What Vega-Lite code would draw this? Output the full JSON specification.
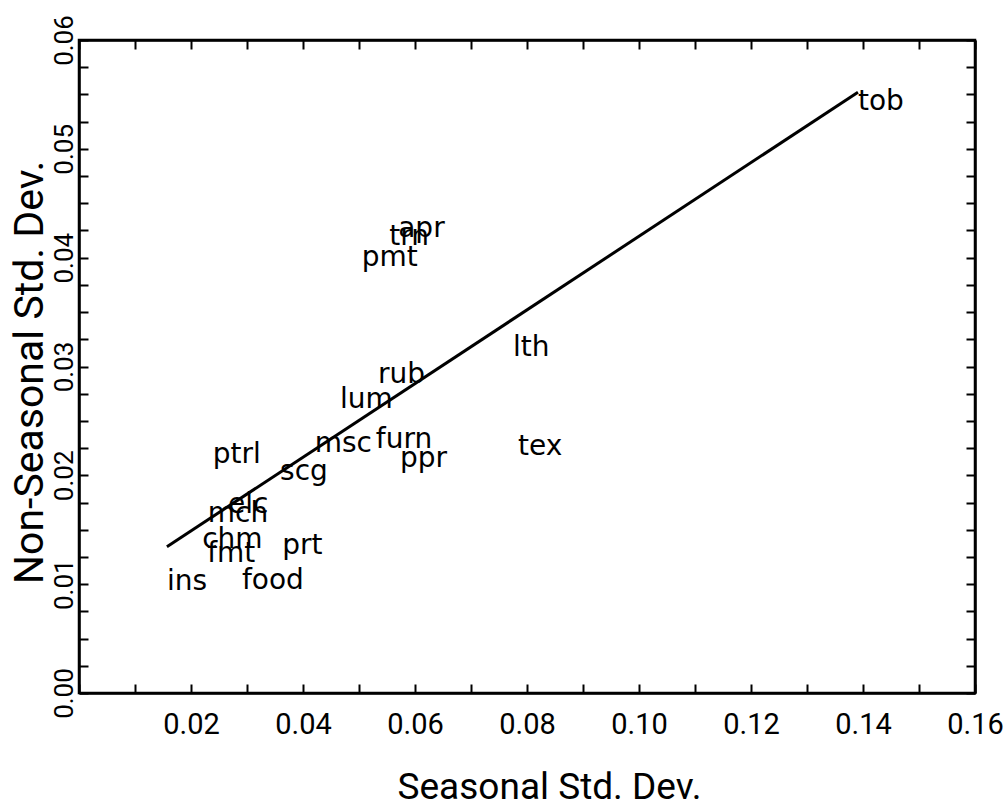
{
  "$schema": "https://vega.github.io/schema/vega-lite/v6.json",
  "width": 896,
  "height": 653,
  "autosize": {"type": "none"},
  "padding": {"left": 79, "top": 40, "right": 30, "bottom": 113},
  "background": "white",
  "config": {
    "view": {"stroke": "black", "strokeWidth": 2.5},
    "axis": {
      "grid": false,
      "domainColor": "black",
      "domainWidth": 2.5,
      "tickColor": "black",
      "tickWidth": 2,
      "tickSize": -9,
      "labelColor": "black",
      "labelFont": "Roboto",
      "labelFlush": false,
      "labelOverlap": false,
      "labelBound": false,
      "titleColor": "black",
      "titleFont": "Roboto",
      "titleFontWeight": "normal"
    }
  },
  "datasets": {
    "fit": [
      {"seasonal": 0.0157, "nonseasonal": 0.01344},
      {"seasonal": 0.1391, "nonseasonal": 0.0552}
    ],
    "labels": [
      {"industry": "tob", "seasonal": 0.1391, "nonseasonal": 0.05357},
      {"industry": "apr", "seasonal": 0.0570, "nonseasonal": 0.0419},
      {"industry": "trn", "seasonal": 0.0554, "nonseasonal": 0.0412},
      {"industry": "pmt", "seasonal": 0.0505, "nonseasonal": 0.0392},
      {"industry": "lth", "seasonal": 0.0775, "nonseasonal": 0.0310},
      {"industry": "rub", "seasonal": 0.0534, "nonseasonal": 0.0285},
      {"industry": "lum", "seasonal": 0.0466, "nonseasonal": 0.0262},
      {"industry": "msc", "seasonal": 0.0421, "nonseasonal": 0.0221},
      {"industry": "furn", "seasonal": 0.0530, "nonseasonal": 0.0225},
      {"industry": "ppr", "seasonal": 0.0573, "nonseasonal": 0.0208},
      {"industry": "tex", "seasonal": 0.0784, "nonseasonal": 0.0219},
      {"industry": "ptrl", "seasonal": 0.0239, "nonseasonal": 0.0211},
      {"industry": "scg", "seasonal": 0.0359, "nonseasonal": 0.0196},
      {"industry": "elc", "seasonal": 0.0266, "nonseasonal": 0.0165},
      {"industry": "mch", "seasonal": 0.0230, "nonseasonal": 0.0157},
      {"industry": "chm", "seasonal": 0.0220, "nonseasonal": 0.0133},
      {"industry": "fmt", "seasonal": 0.0229, "nonseasonal": 0.0120},
      {"industry": "prt", "seasonal": 0.0363, "nonseasonal": 0.0128},
      {"industry": "ins", "seasonal": 0.0157, "nonseasonal": 0.0095},
      {"industry": "food", "seasonal": 0.0291, "nonseasonal": 0.0096}
    ]
  },
  "layer": [
    {
      "data": {"name": "fit"},
      "mark": {"type": "line", "color": "black", "strokeWidth": 3},
      "encoding": {
        "x": {
          "field": "seasonal", "type": "quantitative",
          "scale": {"domain": [0, 0.16], "nice": false, "zero": false},
          "axis": {
            "orient": "bottom",
            "values": [0, 0.01, 0.02, 0.03, 0.04, 0.05, 0.06, 0.07, 0.08, 0.09, 0.1, 0.11, 0.12, 0.13, 0.14, 0.15, 0.16],
            "labelExpr": "(round(datum.value*100) % 2 == 0 && datum.value > 0.001) ? format(datum.value, '.2f') : ''",
            "labelFontSize": 29,
            "labelPadding": 26,
            "title": "Seasonal Std. Dev.",
            "titleFontSize": 37,
            "titlePadding": 30,
            "titleX": 470
          }
        },
        "y": {
          "field": "nonseasonal", "type": "quantitative",
          "scale": {"domain": [0, 0.06], "nice": false, "zero": false},
          "axis": {
            "orient": "left",
            "values": [0, 0.0025, 0.005, 0.0075, 0.01, 0.0125, 0.015, 0.0175, 0.02, 0.0225, 0.025, 0.0275, 0.03, 0.0325, 0.035, 0.0375, 0.04, 0.0425, 0.045, 0.0475, 0.05, 0.0525, 0.055, 0.0575, 0.06],
            "labelExpr": "(round(datum.value*10000) % 100 == 0) ? format(datum.value, '.2f') : ''",
            "labelFontSize": 26,
            "labelAngle": -90,
            "labelAlign": "center",
            "labelBaseline": "bottom",
            "labelPadding": 11,
            "title": "Non-Seasonal Std. Dev.",
            "titleFontSize": 41,
            "titlePadding": 0,
            "titleY": 332
          }
        }
      }
    },
    {
      "data": {"name": "labels"},
      "mark": {"type": "text", "align": "left", "baseline": "alphabetic", "font": "DejaVu Sans", "fontSize": 28, "color": "black"},
      "encoding": {
        "x": {"field": "seasonal", "type": "quantitative", "axis": null},
        "y": {"field": "nonseasonal", "type": "quantitative", "axis": null},
        "text": {"field": "industry"}
      }
    },
    {
      "data": {"name": "fit"},
      "mark": {"type": "line", "opacity": 0},
      "encoding": {
        "x": {
          "field": "seasonal", "type": "quantitative",
          "axis": {
            "orient": "top", "labels": false, "title": null,
            "values": [0, 0.01, 0.02, 0.03, 0.04, 0.05, 0.06, 0.07, 0.08, 0.09, 0.1, 0.11, 0.12, 0.13, 0.14, 0.15, 0.16]
          }
        },
        "y": {
          "field": "nonseasonal", "type": "quantitative",
          "axis": {
            "orient": "right", "labels": false, "title": null,
            "values": [0, 0.0025, 0.005, 0.0075, 0.01, 0.0125, 0.015, 0.0175, 0.02, 0.0225, 0.025, 0.0275, 0.03, 0.0325, 0.035, 0.0375, 0.04, 0.0425, 0.045, 0.0475, 0.05, 0.0525, 0.055, 0.0575, 0.06]
          }
        }
      }
    }
  ],
  "resolve": {"axis": {"x": "independent", "y": "independent"}}
}
